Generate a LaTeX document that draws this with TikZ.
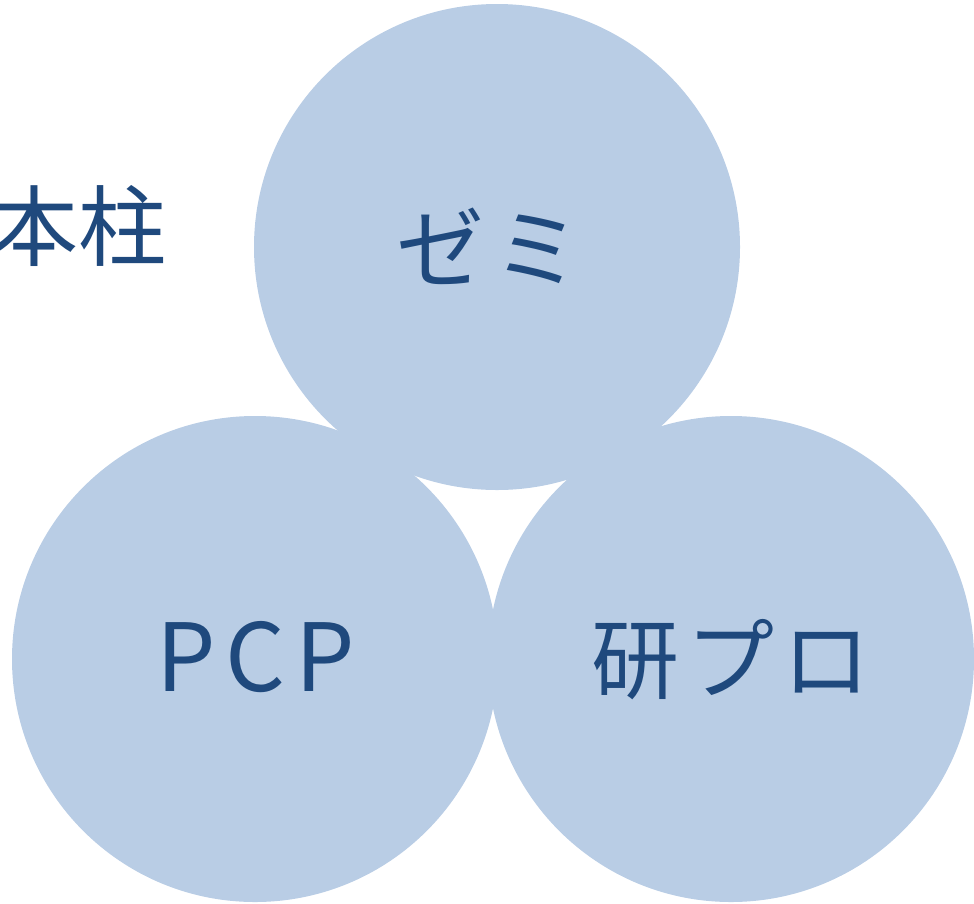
\documentclass[tikz,border=0pt]{standalone}
\usepackage{fontspec}
\newfontfamily\cjk{Noto Sans CJK JP}
\definecolor{circfill}{HTML}{B9CDE5}
\definecolor{txtblue}{HTML}{1F497D}
\begin{document}
\begin{tikzpicture}[x=1pt,y=-1pt,
  bubble/.style={circle,fill=circfill,draw=none,minimum size=486pt,inner sep=0pt},
  label/.style={text=txtblue,font=\cjk\fontsize{88}{100}\selectfont,inner sep=0pt,anchor=center}]
\useasboundingbox (0,0) rectangle (974,903);
\clip (0,0) rectangle (974,903);
\node[bubble] (zemi) at (497,247) {};
\node[bubble] (pcp) at (255,659) {};
\node[bubble] (kenpro) at (731,659) {};
\node[label] (tzemi) at (489,246) {ゼ\hspace{0.1em}ミ};
\node[label,font=\cjk\fontsize{94}{100}\selectfont] (tpcp) at (256,657) {P\hspace{10pt}C\hspace{10pt}P};
\node[label] (tken) at (731,660) {研\hspace{0.09em}プ\hspace{0.09em}ロ};
\node[label,anchor=east] (thashira) at (167,226) {本柱};
\end{tikzpicture}
\end{document}
